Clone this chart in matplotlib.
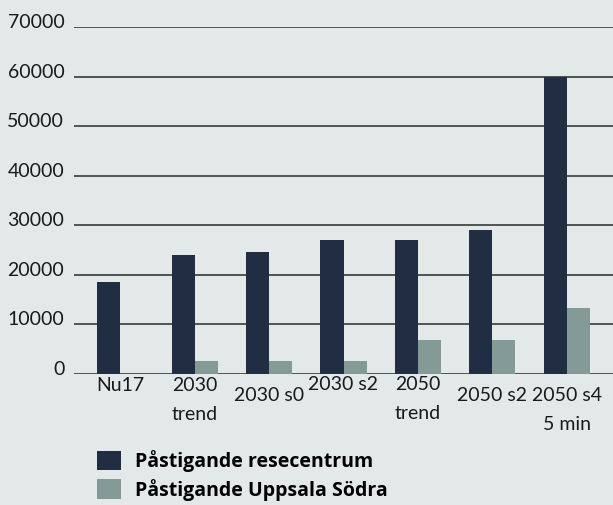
import matplotlib
matplotlib.use("Agg")
import matplotlib.pyplot as plt
import matplotlib.transforms as mtransforms
from matplotlib.patches import Patch
import numpy as np

plt.rcParams["font.family"] = ["Lato", "DejaVu Sans"]

categories = ["Nu17", "2030\ntrend", "2030 s0", "2030 s2", "2050\ntrend", "2050 s2", "2050 s4\n5 min"]
resecentrum = [18600, 24000, 24600, 27000, 27000, 29000, 60000]
uppsala_sodra = [0, 2600, 2600, 2600, 6900, 6900, 13300]
# vertical position of each category label (pixels below the zero line)
label_drop = [2, 2, 12, 1, 1, 12, 12]

bg = "#e3e9e9"
dark = "#212d42"
light = "#849a97"

fig = plt.figure(figsize=(6.13, 5.05), dpi=100, facecolor=bg)
ax = fig.add_axes([74 / 613, 1 - 374 / 505, 1 - 74 / 613, (374 - 27) / 505])
ax.set_facecolor(bg)

x = np.arange(len(categories))
w = 0.31
ax.bar(x - w / 2, resecentrum, w, color=dark, zorder=3)
ax.bar(x + w / 2, uppsala_sodra, w, color=light, zorder=3)

ax.set_xlim(-0.62, 6.62)
ax.set_ylim(0, 70000)
ax.set_yticks(np.arange(0, 70001, 10000))
ax.grid(axis="y", color="#2a2a2a", linewidth=1.1, zorder=1)
ax.set_axisbelow(True)
for s in ax.spines.values():
    s.set_visible(False)

ax.tick_params(axis="y", length=0, pad=7, labelsize=14, labelcolor="#1a1a1a")
ax.tick_params(axis="x", length=0)
ax.set_xticks([])
shift = mtransforms.ScaledTranslation(0, 6 / 100, fig.dpi_scale_trans)
for lab in ax.get_yticklabels():
    lab.set_transform(lab.get_transform() + shift)

for xi, cat, drop in zip(x, categories, label_drop):
    ax.annotate(cat, xy=(xi, 0), xycoords=("data", "axes fraction"),
                xytext=(0, -(drop + 1) * 0.72), textcoords="offset points",
                ha="center", va="top", fontsize=14, color="#1a1a1a",
                linespacing=1.85)

handles = [Patch(facecolor=dark, label="Påstigande resecentrum"),
           Patch(facecolor=light, label="Påstigande Uppsala Södra")]
fig.legend(handles=handles, loc="upper left", bbox_to_anchor=(97 / 613, 1 - 450 / 505),
           frameon=False, prop={"family": "Open Sans", "weight": "bold", "size": 14},
           handlelength=1.23, handleheight=1.18, handletextpad=0.7,
           labelspacing=0.35, borderaxespad=0, borderpad=0)

fig.savefig("out.png", dpi=100, facecolor=bg)
